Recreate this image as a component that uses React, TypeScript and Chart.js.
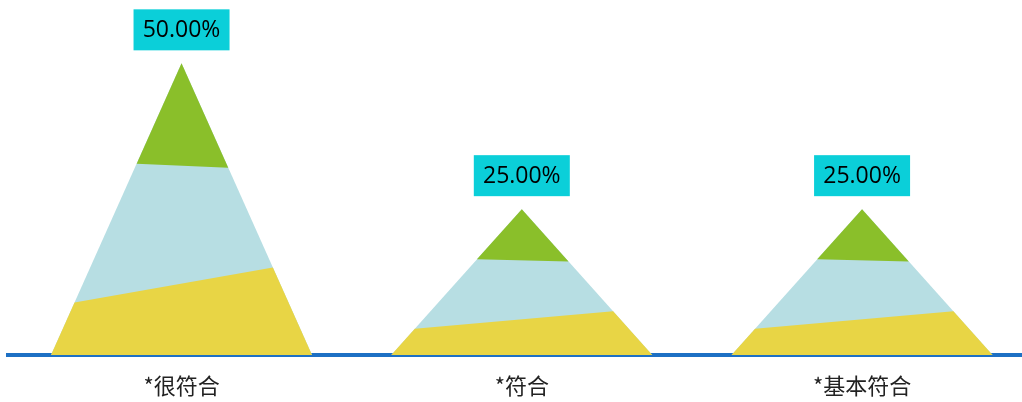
import React, { useEffect, useRef } from "react";
import { Chart, registerables } from "chart.js";

Chart.register(...registerables);

const categories = ["*很符合", "*符合", "*基本符合"];
const values = [50, 25, 25];
const valueLabels = ["50.00%", "25.00%", "25.00%"];

// band boundaries as fraction of pyramid height (left edge, right edge)
const yellowTop = [0.18, 0.3];
const greenBottom = [0.656, 0.642];

const COLORS = {
  yellow: "#E8D545",
  blue: "#B7DEE3",
  green: "#8ABF2A",
  box: "#0BCFD9",
  axis: "#1D70C4",
};

const pyramidPlugin = {
  id: "pyramids",
  afterDatasetsDraw(chart: any) {
    const ctx = chart.ctx;
    const meta = chart.getDatasetMeta(0);
    meta.data.forEach((bar: any, i: number) => {
      const cx = bar.x;
      const top = bar.y;
      const base = bar.base;
      const hw = bar.width / 2;
      const h = base - top;
      const L = (f: number) => [cx - hw * (1 - f), base - f * h];
      const R = (f: number) => [cx + hw * (1 - f), base - f * h];
      const poly = (pts: number[][], color: string) => {
        ctx.beginPath();
        ctx.moveTo(pts[0][0], pts[0][1]);
        for (let k = 1; k < pts.length; k++) ctx.lineTo(pts[k][0], pts[k][1]);
        ctx.closePath();
        ctx.fillStyle = color;
        ctx.fill();
      };
      ctx.save();
      poly([L(0), R(0), [cx, top]], COLORS.blue);
      poly([L(0), R(0), R(yellowTop[1]), L(yellowTop[0])], COLORS.yellow);
      poly([L(greenBottom[0]), R(greenBottom[1]), [cx, top]], COLORS.green);

      // value label box
      const bw = 96;
      const bh = 41;
      const by = top - 13 - bh;
      ctx.fillStyle = COLORS.box;
      ctx.fillRect(cx - bw / 2, by, bw, bh);
      ctx.fillStyle = "#000000";
      ctx.font = "23px 'Open Sans'";
      ctx.textAlign = "center";
      ctx.textBaseline = "middle";
      ctx.fillText(valueLabels[i], cx, by + bh / 2 + 1);
      ctx.restore();
    });
  },
};

export default function App() {
  const ref = useRef<HTMLCanvasElement>(null);
  useEffect(() => {
    document.body.style.margin = "0";
    const chart = new Chart(ref.current as HTMLCanvasElement, {
      type: "bar",
      data: {
        datasets: [
          {
            data: categories.map((_, i) => ({ x: i, y: values[i] })) as any,
            backgroundColor: "rgba(0,0,0,0)",
            borderWidth: 0,
            barPercentage: 0.767,
            categoryPercentage: 1,
          },
        ],
      },
      options: {
        animation: false,
        responsive: false,
        maintainAspectRatio: false,
        layout: { padding: { left: 8, top: 5, right: 0, bottom: 0 } },
        plugins: { legend: { display: false }, tooltip: { enabled: false } },
        scales: {
          x: {
            type: "linear",
            min: -0.51,
            max: 2.47,
            offset: false,
            z: 1,
            grid: { display: false, drawTicks: false },
            border: { display: true, color: COLORS.axis, width: 4 },
            afterBuildTicks: (scale: any) => {
              scale.ticks = categories.map((_, i) => ({ value: i }));
            },
            afterFit: (scale: any) => {
              scale.height = 47;
            },
            ticks: {
              autoSkip: false,
              maxRotation: 0,
              padding: 17,
              color: "#222222",
              font: { family: "'Noto Sans CJK SC'", size: 22 },
              callback: (v: any) => categories[v as number],
            },
          },
          y: {
            display: false,
            min: 0,
            max: 60,
          },
        },
      },
      plugins: [pyramidPlugin],
    });
    return () => chart.destroy();
  }, []);
  return <canvas ref={ref} width={1022} height={402} style={{ display: "block" }} />;
}
